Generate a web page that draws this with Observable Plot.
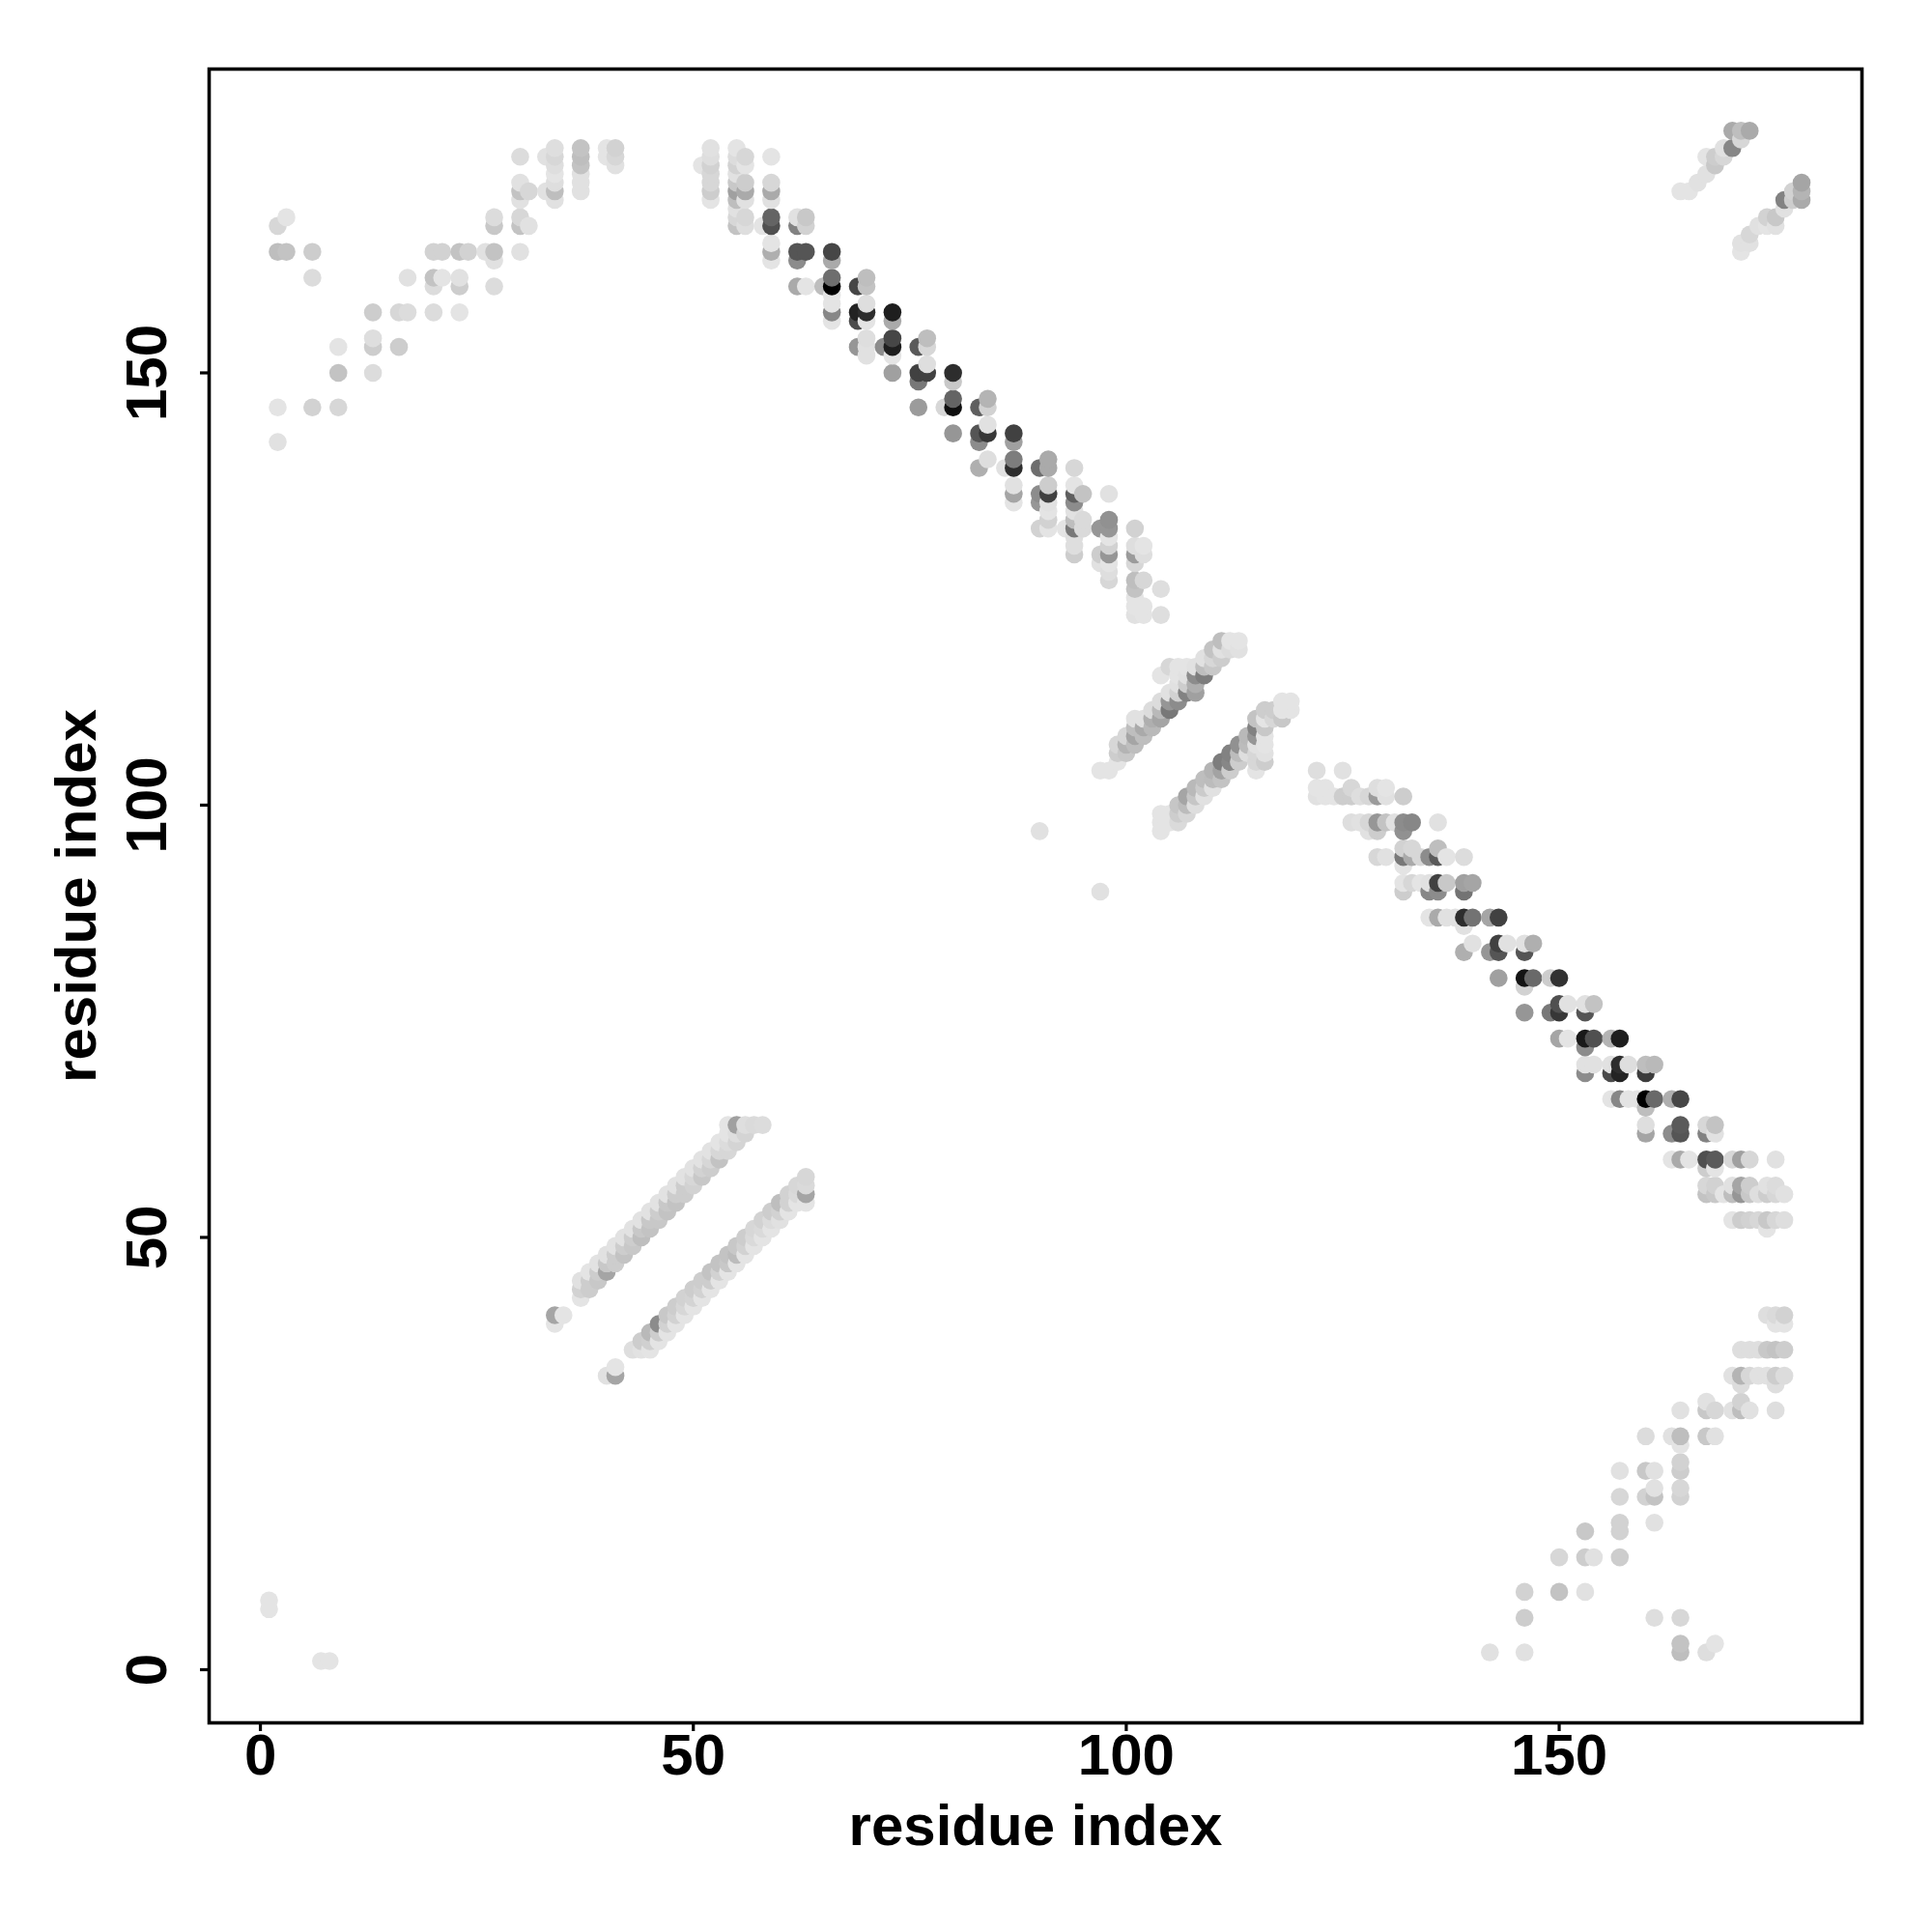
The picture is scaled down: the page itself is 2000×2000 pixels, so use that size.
<!DOCTYPE html>
<html>
<head>
<meta charset="utf-8">
<script src="https://cdn.jsdelivr.net/npm/d3@7"></script>
<script src="https://cdn.jsdelivr.net/npm/@observablehq/plot@0.6"></script>
<style>html,body{margin:0;padding:0;background:#fff}svg{display:block}</style>
</head>
<body>
<div id="chart"></div>
<script>
// Each entry: [residue i, residue j, grey level of the contact]
const cornerLowLeft = [[1,8,228],[1,7,228],[7,1,228],[8,1,228]];
const farUpperLeft = [
[2,167,215],[3,168,228],[2,164,190],[3,164,195],[6,164,205],[6,161,220],[20,164,210],[21,164,210],[23,164,195],[24,164,210],[26,164,225],[27,164,195],[27,163,225],[30,164,225],[27,167,200],[27,168,220],[30,167,195],[30,168,215],[31,167,225],
[17,161,225],[20,161,195],[21,161,228],[23,161,225],[20,160,220],[23,160,205],[27,160,220],[13,157,205],[16,157,215],[17,157,220],[20,157,220],[23,157,228],[13,154,222],[9,153,228],[13,153,205],[16,153,205],[9,150,195],[13,150,220],[2,146,228],[6,146,210],[9,146,215],[2,142,225],
[30,175,220],[30,172,225],[30,171,195],[30,170,225],[31,171,215],[33,175,225],[33,171,225],[34,176,222],[34,175,215],[34,174,222],[34,173,228],[34,172,222],[34,171,190],[34,170,225],[37,176,195],[37,175,190],[37,174,195],[37,173,225],[37,172,225],[37,171,225],[40,176,228],[40,175,228],[41,176,210],[41,175,215],[41,174,225]];
const antiUpperColumns = [
[51,174,228],[52,176,225],[52,175,222],[52,174,210],[52,173,215],[52,172,215],[52,171,205],[52,170,228],[55,176,228],[55,175,220],[55,174,210],[55,173,225],[55,172,200],[55,171,160],[55,170,190],[55,169,225],[55,168,215],[55,167,195],[56,175,215],[56,174,228],[56,172,205],[56,171,170],[56,170,225],[56,168,215],[56,167,222],[58,167,228],[59,175,228],[59,172,215],[59,171,170],[59,170,225],[59,168,100],[59,167,80],[59,165,228],[59,164,175],[59,163,228],
[62,168,225],[62,167,130],[62,164,85],[62,163,140],[62,160,170],[63,168,200],[63,167,210],[63,164,85],[63,160,228],[65,160,190],[66,164,70],[66,163,170],[66,161,110],[66,160,0],[66,159,228],[66,158,228],[66,157,135],[66,156,228],[69,160,70],[69,157,35],[69,156,75],[69,153,150],[70,161,190],[70,160,195],[70,158,222],[70,157,45],[70,156,228],[70,154,222],[70,153,225],[70,152,225],[72,153,140],[73,157,30],[73,156,170],[73,154,70],[73,153,30],[73,152,228],[73,150,160],
[76,153,90],[76,150,65],[76,149,120],[76,146,155],[77,154,190],[77,153,215],[77,151,222],[77,150,65],[79,146,215],[80,150,45],[80,149,200],[80,147,100],[80,146,15],[80,143,150]];
const antiUpperLower = [
[83,146,95],[83,143,85],[83,142,140],[83,139,175],[84,147,180],[84,146,210],[84,144,225],[84,143,55],[84,140,222],[86,139,225],[87,143,65],[87,142,160],[87,140,125],[87,139,45],[87,137,225],[87,136,165],[87,135,228],
[90,139,110],[90,136,140],[90,135,150],[90,132,210],[91,140,170],[91,139,170],[91,137,205],[91,136,65],[91,135,225],[91,134,228],[91,133,210],[91,132,228],[93,132,228],[94,139,215],[94,137,228],[94,136,95],[94,135,140],[94,134,225],[94,133,190],[94,132,120],[94,131,222],[94,130,222],[94,129,205],[95,136,195],[95,133,218],[95,132,218],
[97,132,150],[97,129,205],[97,128,225],[98,136,225],[98,133,145],[98,132,150],[98,131,228],[98,130,210],[98,129,150],[98,128,228],[98,127,222],[98,126,215],[101,132,210],[101,130,222],[101,129,155],[101,128,215],[101,126,190],[101,125,195],[101,124,228],[101,123,228],[101,122,225],[102,130,228],[102,129,222],[102,126,215],[102,123,228],[102,122,228],[104,125,222],[104,122,222]];
const isolated = [[90,97,225],[97,90,225]];
const strandA = [
[97,104,228],[98,104,228],[99,105,228],[99,106,205],[99,107,215],[100,106,200],[100,107,180],[100,108,215],[101,107,190],[101,108,165],[101,109,190],[101,110,225],[102,108,190],[102,109,170],[102,110,225],[103,109,185],[103,110,175],[103,111,220],[104,110,165],[104,111,185],[104,112,220],[104,115,228],[105,111,120],[105,112,150],[105,113,225],[105,116,215],[106,112,140],[106,113,210],[106,114,225],[106,115,228],[106,116,228],[107,113,130],[107,114,205],[107,115,225],[107,116,228],[108,113,160],[108,114,175],[108,115,140],[108,116,225],[109,115,125],[109,116,190],[109,117,225],[110,116,200],[110,117,215],[110,118,195],[111,117,205],[111,118,225],[111,119,190],[112,118,220],[112,119,228],[113,118,225],[113,119,228]];
const strandB = [
[104,97,228],[104,98,228],[104,99,228],[105,98,228],[105,99,228],[106,98,218],[106,99,205],[106,100,198],[107,99,215],[107,100,188],[107,101,165],[108,100,222],[108,101,198],[108,102,185],[109,101,225],[109,102,203],[109,103,190],[110,102,225],[110,103,188],[110,104,180],[111,103,195],[111,104,163],[111,105,125],[112,104,205],[112,105,135],[112,106,130],[113,105,205],[113,106,188],[113,107,145],[114,106,222],[114,107,188],[114,108,185],[115,104,228],[115,105,215],[115,106,215],[115,107,225],[115,108,150],[115,109,130],[115,110,195],[116,105,205],[116,106,225],[116,107,228],[116,108,228],[116,109,200],[116,110,228],[116,111,205],[117,110,215],[117,111,205],[118,110,200],[118,111,228],[118,112,228],[119,111,228],[119,112,228]];
const antiLowerUpper = [
[122,104,222],[125,104,225],[122,102,228],[122,101,225],[123,102,228],[123,101,228],[124,101,228],[125,101,205],[126,102,215],[126,101,205],[127,101,222],[128,101,215],[129,102,222],[129,101,155],[130,102,228],[130,101,225],[132,101,205],
[126,98,222],[127,98,225],[128,98,215],[129,98,150],[130,98,195],[131,98,225],[132,98,140],[133,98,135],[136,98,225],[128,97,225],[129,97,205],[132,97,145],[132,95,210],[133,95,215],[136,95,190],[129,94,215],[130,94,225],[132,94,120],[133,94,170],[134,94,215],[135,94,140],[136,94,90],[137,94,228],[139,94,220],[132,93,228],
[132,91,228],[133,91,215],[134,91,228],[135,91,225],[136,91,65],[137,91,200],[139,91,160],[140,91,165],[132,90,205],[135,90,135],[136,90,140],[139,90,115],[135,87,228],[136,87,170],[137,87,225],[138,87,225],[139,87,45],[140,87,115],[142,87,165],[143,87,65],[139,86,225],[140,84,225],[143,84,65],[144,84,225],[146,84,225],[147,84,175],[139,83,175],[142,83,150],[143,83,85],[146,83,85]];
const antiLowerLower = [
[143,80,160],[146,80,20],[147,80,105],[149,80,205],[150,80,50],[146,79,210],[150,77,80],[151,77,225],[153,77,225],[154,77,195],[146,76,150],[149,76,120],[150,76,55],[153,76,85],[150,73,165],[151,73,228],[153,73,25],[154,73,80],[156,73,180],[157,73,30],[153,72,140],[153,70,225],[154,70,225],[156,70,225],[157,70,45],[158,70,222],[160,70,190],[161,70,185],[153,69,140],[156,69,75],[157,69,35],[160,69,60],
[156,66,228],[157,66,135],[158,66,228],[159,66,228],[160,66,0],[161,66,105],[163,66,175],[164,66,70],[160,65,190],[160,63,222],[164,63,90],[167,63,215],[168,63,195],[160,62,165],[163,62,140],[164,62,85],[167,62,130],[168,62,225],[163,59,228],[164,59,170],[165,59,228],[167,59,80],[168,59,90],[170,59,215],[171,59,160],[172,59,215],[175,59,225],[167,58,205],[168,58,228],
[167,56,215],[168,56,210],[170,56,225],[171,56,165],[172,56,205],[174,56,225],[175,56,220],[167,55,195],[168,55,200],[169,55,228],[170,55,190],[171,55,150],[172,55,200],[173,55,222],[174,55,205],[175,55,215],[176,55,225],[170,52,228],[171,52,205],[172,52,210],[173,52,215],[174,52,200],[175,52,215],[176,52,222],[174,51,228]];
const strandC = [
[34,41,165],[34,40,228],[35,41,228],[37,43,228],[37,44,210],[37,45,225],[38,44,205],[38,45,205],[38,46,228],[39,45,200],[39,46,205],[39,47,226],[40,46,165],[40,47,200],[40,48,225],[41,47,205],[41,48,205],[41,49,226],[42,48,195],[42,49,205],[42,50,226],[43,49,200],[43,50,205],[43,51,226],[44,50,190],[44,51,200],[44,52,226],[45,51,195],[45,52,200],[45,53,226],[46,52,200],[46,53,205],[46,54,226],[47,53,195],[47,54,200],[47,55,226],[48,54,195],[48,55,205],[48,56,226],[49,55,205],[49,56,205],[49,57,226],[50,56,210],[50,57,215],[50,58,226],[51,57,200],[51,58,210],[51,59,226],[52,58,205],[52,59,215],[52,60,226],[53,59,195],[53,60,215],[53,61,228],[54,60,215],[54,61,220],[54,62,228],[54,63,228],[55,61,212],[55,62,222],[55,63,160],[56,62,212],[56,63,222],[57,63,218],[58,63,220]];
const strandD = [
[40,34,225],[41,34,165],[41,35,228],[43,37,222],[44,37,226],[44,38,205],[45,37,228],[45,38,208],[45,39,185],[46,38,228],[46,39,205],[46,40,140],[47,39,228],[47,40,210],[47,41,200],[48,40,228],[48,41,210],[48,42,205],[49,41,228],[49,42,215],[49,43,210],[50,42,228],[50,43,212],[50,44,205],[51,43,228],[51,44,210],[51,45,205],[52,44,228],[52,45,205],[52,46,195],[53,45,228],[53,46,210],[53,47,195],[54,46,228],[54,47,200],[54,48,195],[55,47,228],[55,48,188],[55,49,200],[56,48,228],[56,49,210],[56,50,205],[57,49,228],[57,50,218],[57,51,215],[58,50,228],[58,51,218],[58,52,210],[59,51,228],[59,52,220],[59,53,205],[60,52,225],[60,53,210],[60,54,190],[61,53,228],[61,54,210],[61,55,210],[62,54,228],[62,55,218],[62,56,215],[63,54,228],[63,55,165],[63,56,218],[63,57,215]];
const farLowerRight = [
[142,2,225],[146,2,225],[146,6,205],[146,9,210],[150,9,195],[153,9,225],[150,13,215],[153,13,205],[154,13,225],[157,13,205],[153,16,200],[157,17,210],[157,16,210],[161,17,225],[157,20,215],[160,20,210],[161,20,195],[161,21,225],[164,21,215],[164,20,210],[157,23,225],[160,23,200],[161,23,225],[164,24,210],[164,23,205],[160,27,220],[163,27,225],[164,27,190],[164,26,228],[167,27,200],[168,27,225],[164,30,225],[167,31,225],[167,30,200],[168,30,215],[170,30,225],[171,31,210],[171,30,190],[172,30,225],[175,30,222],
[170,34,225],[171,34,180],[172,34,215],[173,34,225],[174,34,225],[175,34,205],[176,34,220],[171,33,220],[175,33,222],[171,37,222],[172,37,222],[173,37,222],[174,37,200],[175,37,195],[176,37,205],[174,41,222],[175,41,218],[176,41,210],[175,40,228],[176,40,228],[161,6,222],[164,6,215],[164,3,195],[164,2,190],[167,2,222],[168,3,228]];
const cornerTopRight = [
[164,171,228],[165,171,228],[166,172,225],[167,173,225],[167,175,228],[168,174,200],[168,175,205],[169,175,215],[169,176,225],[170,176,135],[170,178,170],[171,177,215],[171,178,190],[172,178,170],
[171,164,228],[171,165,225],[172,165,225],[172,166,215],[173,167,225],[174,167,228],[174,168,210],[175,167,225],[175,168,200],[176,169,225],[176,170,130],[177,170,205],[177,171,210],[178,170,170],[178,171,180],[178,172,165]];

const xTicks = [0, 50, 100, 150];
const yTicks = [0, 50, 100, 150];
const axisName = "residue index";

const contacts = d3.sort(
  [cornerLowLeft, farUpperLeft, antiUpperColumns, antiUpperLower, isolated, strandA, strandB,
   antiLowerUpper, antiLowerLower, strandC, strandD, farLowerRight, cornerTopRight]
    .flat().map(([i, j, level]) => ({i, j, level})),
  d => d.i, d => d.j);

const chart = Plot.plot({
  width: 2000, height: 2000,
  marginLeft: 216, marginRight: 73, marginTop: 71, marginBottom: 217,
  style: {fontFamily: "'Liberation Sans', Arial, sans-serif", fontWeight: "bold", background: "#fff", color: "#000"},
  x: {domain: [-5.92, 184.97]},
  y: {domain: [-6.15, 185.14]},
  color: {type: "linear", domain: [0, 255], range: ["#000", "#fff"]},
  marks: [
    Plot.dot(contacts, {x: "i", y: "j", r: 9.3, fill: "level", stroke: "none"}),
    Plot.frame({stroke: "#000", strokeWidth: 3.6}),
    Plot.axisX({ticks: xTicks, tickSize: 9, tickPadding: 2, fontSize: 60, strokeWidth: 3.2, label: axisName, labelAnchor: "center", labelOffset: 126, labelArrow: "none", tickFormat: d => String(d)}),
    Plot.axisY({ticks: yTicks, tickSize: 9, tickPadding: 36, fontSize: 60, strokeWidth: 3.2, tickRotate: -90, label: axisName, labelAnchor: "center", labelOffset: 160, labelArrow: "none", tickFormat: d => String(d)})
  ]
});
document.getElementById("chart").append(chart);
</script>
</body>
</html>
